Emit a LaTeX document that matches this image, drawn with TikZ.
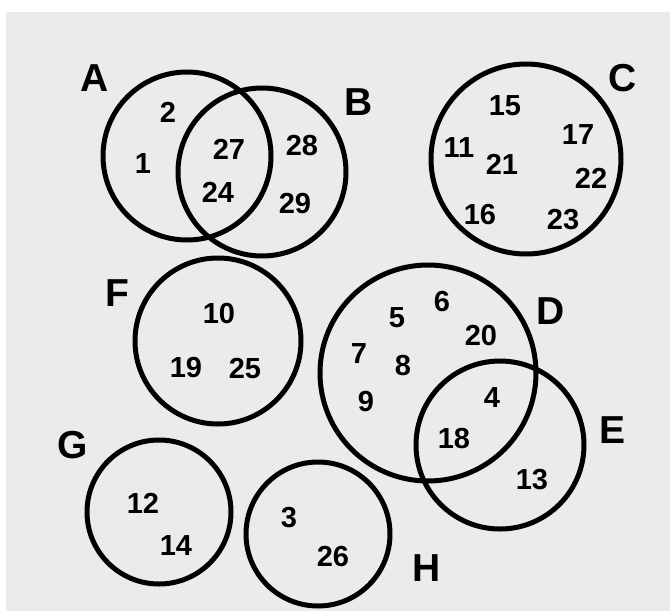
\documentclass[tikz,border=0pt]{standalone}
\usepackage{fontspec}
\setmainfont{Liberation Sans}
\usepackage{tikz}
\usetikzlibrary{positioning}
\definecolor{panelgray}{RGB}{235,235,235}

\begin{document}
\begin{tikzpicture}[
  x=1pt, y=-1pt,
  setcircle/.style={draw, circle, line width=5pt, inner sep=0pt},
  setname/.style={inner sep=0pt, font=\fontsize{39}{39}\selectfont\bfseries},
  elem/.style={inner sep=0pt, font=\fontsize{29}{29}\selectfont\bfseries}
]
\useasboundingbox (0,0) rectangle (670,611);
\fill[panelgray] (6,12) rectangle (670,611);

\node[setcircle, minimum size=168pt] (setA) at (187,156) {};
\node[setcircle, minimum size=168pt] (setB) at (262,172) {};
\node[setcircle, minimum size=190pt] (setC) at (526,159) {};
\node[setcircle, minimum size=216pt] (setD) at (428,373) {};
\node[setcircle, minimum size=168pt] (setE) at (500,445) {};
\node[setcircle, minimum size=166pt] (setF) at (218,341) {};
\node[setcircle, minimum size=144pt] (setG) at (159,512) {};
\node[setcircle, minimum size=144pt] (setH) at (318,534) {};

\node[setname] (labA) at (95,78) {A};
\node[setname] (labB) at (359,102) {B};
\node[setname] (labC) at (623,78) {C};
\node[setname] (labD) at (551,311) {D};
\node[setname] (labE) at (613,430) {E};
\node[setname] (labF) at (117,293) {F};
\node[setname] (labG) at (73,445) {G};
\node[setname] (labH) at (427,568) {H};

\node[elem] (n2) at (168,112) {2};
\node[elem] (n1) at (143,164) {1};
\node[elem] (n27) at (229,149) {27};
\node[elem] (n24) at (218,192) {24};
\node[elem] (n28) at (302,146) {28};
\node[elem] (n29) at (295,204) {29};

\node[elem] (n15) at (505,106) {15};
\node[elem] (n11) at (459,148) {11};
\node[elem] (n21) at (502,164) {21};
\node[elem] (n17) at (578,135) {17};
\node[elem] (n22) at (591,178) {22};
\node[elem] (n16) at (480,215) {16};
\node[elem] (n23) at (563,220) {23};

\node[elem] (n10) at (219,314) {10};
\node[elem] (n19) at (186,368) {19};
\node[elem] (n25) at (245,369) {25};

\node[elem] (n6) at (442,302) {6};
\node[elem] (n5) at (397,318) {5};
\node[elem] (n20) at (481,336) {20};
\node[elem] (n7) at (359,354) {7};
\node[elem] (n8) at (403,366) {8};
\node[elem] (n9) at (366,402) {9};
\node[elem] (n4) at (492,398) {4};
\node[elem] (n18) at (454,439) {18};
\node[elem] (n13) at (532,480) {13};

\node[elem] (n12) at (143,503) {12};
\node[elem] (n14) at (176,546) {14};
\node[elem] (n3) at (289,518) {3};
\node[elem] (n26) at (333,557) {26};
\end{tikzpicture}
\end{document}
